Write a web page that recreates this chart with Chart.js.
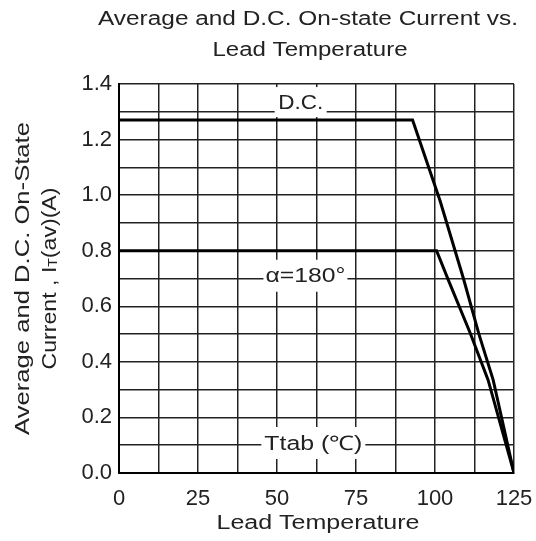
<!DOCTYPE html>
<html>
<head>
<meta charset="utf-8">
<script src="https://cdn.jsdelivr.net/npm/chart.js@4.4.0/dist/chart.umd.min.js"></script>
<style>
  body { margin: 0; background: #fff; }
  canvas { display: block; }
</style>
</head>
<body>
<canvas id="myChart" width="536" height="541"></canvas>
<script>
'use strict';
// D.C. curve
let dcTemp = [0, 92.9, 101.6, 109.0, 113.9, 118.4, 125];
let dcCurrent = [1.27, 1.27, 0.98, 0.70, 0.50, 0.335, 0];
// alpha = 180 deg curve
let alphaTemp = [0, 100.5, 104.2, 111.1, 116.8, 125];
let alphaCurrent = [0.8, 0.8, 0.695, 0.505, 0.335, 0];

let xTickLabels = [0, 25, 50, 75, 100, 125];
let yTickLabels = ['0.0', '0.2', '0.4', '0.6', '0.8', '1.0', '1.2', '1.4'];

let titleLines = ['Average and D.C. On-state Current vs.', 'Lead Temperature'];
let xTitle = 'Lead Temperature';
let yTitle = 'Average and D.C. On-State';

const FONT = '"Liberation Sans", Arial, sans-serif';
const TEXT = '#222';

function toPoints(xs, ys) {
  let pts = [];
  for (let i = 0; i < xs.length; i++) {
    pts.push({x: xs[i], y: ys[i]});
  }
  return pts;
}

// the scanned text is a bit wider than Liberation Sans, so stretch it to a width
function fitText(ctx, text, x, y, width) {
  let w = ctx.measureText(text).width;
  ctx.save();
  ctx.translate(x, y);
  ctx.scale(width / w, 1);
  ctx.fillText(text, 0, 0);
  ctx.restore();
}

// text drawn into the plot, with a white patch that breaks the grid
function boxLabel(ctx, text, x, y, tw, w, h) {
  ctx.fillStyle = '#fff';
  ctx.fillRect(x - w / 2, y - h / 2, w, h);
  ctx.fillStyle = TEXT;
  ctx.font = '20px ' + FONT;
  ctx.textAlign = 'center';
  ctx.textBaseline = 'middle';
  fitText(ctx, text, x, y + 1, tw);
}

const labelsPlugin = {
  id: 'labels',
  beforeDatasetsDraw(chart) {
    const ctx = chart.ctx;
    const xs = chart.scales.x, ys = chart.scales.y;
    ctx.save();
    boxLabel(ctx, 'D.C.', xs.getPixelForValue(57.5), ys.getPixelForValue(1.335), 45, 52, 30);
    boxLabel(ctx, '\u03B1=180\u00B0', xs.getPixelForValue(59), ys.getPixelForValue(0.71), 80, 84, 32);
    boxLabel(ctx, 'Ttab (\u2103)', xs.getPixelForValue(61.5), ys.getPixelForValue(0.108), 98, 104, 32);
    ctx.restore();
  },
  afterDraw(chart) {
    const ctx = chart.ctx;
    const area = chart.chartArea;
    ctx.save();
    ctx.fillStyle = TEXT;
    ctx.textAlign = 'center';
    ctx.textBaseline = 'middle';
    ctx.font = '20px ' + FONT;
    fitText(ctx, titleLines[0], 308, 19, 420);
    fitText(ctx, titleLines[1], 310, 50, 195);
    fitText(ctx, xTitle, 318, 523, 203);

    // rotated y title, two lines, second with subscript T
    const cy = (area.top + area.bottom) / 2;
    ctx.translate(23, cy);
    ctx.rotate(-Math.PI / 2);
    fitText(ctx, yTitle, 0, 0, 313);
    ctx.translate(0, 27);
    let a = 'Current , I', b = 'T', c = '(av)(A)';
    ctx.font = '20px ' + FONT;
    let wa = ctx.measureText(a).width, wc = ctx.measureText(c).width;
    ctx.font = '12px ' + FONT;
    let wb = ctx.measureText(b).width;
    let total = wa + wb + wc;
    ctx.scale(182 / total, 1);
    let x0 = -total / 2;
    ctx.textAlign = 'left';
    ctx.font = '20px ' + FONT;
    ctx.fillText(a, x0, 0);
    ctx.font = '12px ' + FONT;
    ctx.fillText(b, x0 + wa, 4);
    ctx.font = '20px ' + FONT;
    ctx.fillText(c, x0 + wa + wb, 0);
    ctx.restore();
  }
};

let ctx = document.getElementById('myChart').getContext('2d');
let myChart = new Chart(ctx, {
  type: 'scatter',
  data: {
    datasets: [{
      label: 'D.C.',
      data: toPoints(dcTemp, dcCurrent),
      showLine: true,
      borderColor: '#000',
      borderWidth: 3,
      pointRadius: 0,
      tension: 0
    }, {
      label: 'a=180',
      data: toPoints(alphaTemp, alphaCurrent),
      showLine: true,
      borderColor: '#000',
      borderWidth: 3,
      pointRadius: 0,
      tension: 0
    }]
  },
  options: {
    responsive: false,
    animation: false,
    layout: { padding: { top: 84, right: 22, left: 0, bottom: 0 } },
    plugins: {
      legend: { display: false },
      tooltip: { enabled: false }
    },
    scales: {
      x: {
        type: 'linear',
        min: 0,
        max: 125,
        afterFit(axis) {
          axis.height = 68;
          axis.paddingLeft = 0;
          axis.paddingRight = 0;
        },
        border: { color: '#000', width: 2 },
        grid: { color: '#222', lineWidth: 1.5, drawTicks: false },
        ticks: {
          stepSize: 12.5,
          autoSkip: false,
          maxRotation: 0,
          padding: 13,
          color: TEXT,
          font: { family: FONT, size: 22 },
          callback(v) {
            return xTickLabels.includes(v) ? String(v) : '';
          }
        }
      },
      y: {
        min: 0,
        max: 1.4,
        afterFit(axis) {
          axis.width = 119;
          axis.paddingTop = 0;
          axis.paddingBottom = 0;
        },
        border: { color: '#000', width: 2 },
        grid: { color: '#222', lineWidth: 1.5, drawTicks: false },
        ticks: {
          stepSize: 0.1,
          autoSkip: false,
          padding: 7,
          color: TEXT,
          font: { family: FONT, size: 22 },
          callback(v) {
            let r = Math.round(v * 10);
            return r % 2 === 0 ? yTickLabels[r / 2] : '';
          }
        }
      }
    }
  },
  plugins: [labelsPlugin]
});
</script>
</body>
</html>
